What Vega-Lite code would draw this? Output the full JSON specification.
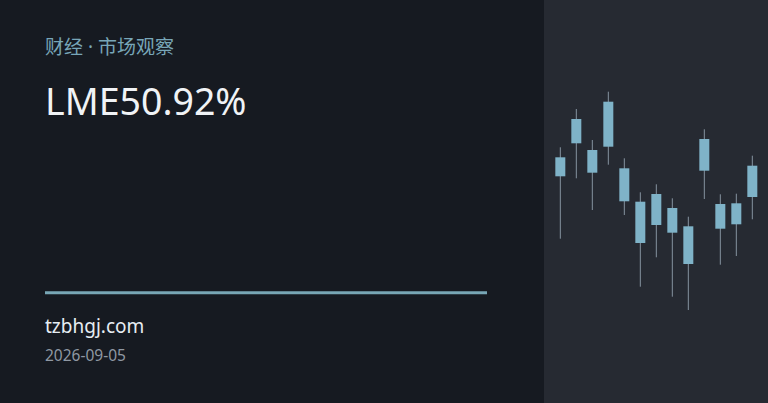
{
  "$schema": "https://vega.github.io/schema/vega-lite/v6.json",
  "width": 768,
  "height": 403,
  "autosize": {"type": "fit", "contains": "padding"},
  "padding": 0,
  "background": "#161a21",
  "config": {"view": {"stroke": null}, "font": "Noto Sans"},
  "data": {
    "values": [
      {"i": 1, "open": 245.7, "close": 226.7, "high": 255.7, "low": 164.3},
      {"i": 2, "open": 284.0, "close": 259.7, "high": 294.0, "low": 224.7},
      {"i": 3, "open": 253.0, "close": 230.3, "high": 263.0, "low": 193.0},
      {"i": 4, "open": 301.3, "close": 256.3, "high": 311.3, "low": 238.3},
      {"i": 5, "open": 234.7, "close": 201.7, "high": 244.7, "low": 188.0},
      {"i": 6, "open": 201.3, "close": 160.0, "high": 210.7, "low": 116.3},
      {"i": 7, "open": 209.0, "close": 178.0, "high": 218.7, "low": 145.7},
      {"i": 8, "open": 195.0, "close": 170.3, "high": 204.7, "low": 106.3},
      {"i": 9, "open": 176.7, "close": 139.0, "high": 186.3, "low": 93.0},
      {"i": 10, "open": 264.0, "close": 232.3, "high": 273.7, "low": 204.0},
      {"i": 11, "open": 199.0, "close": 174.3, "high": 208.7, "low": 138.3},
      {"i": 12, "open": 199.7, "close": 178.7, "high": 209.3, "low": 147.0},
      {"i": 13, "open": 237.3, "close": 206.0, "high": 247.3, "low": 183.7}
    ]
  },
  "layer": [
    {
      "data": {"values": [{}]},
      "mark": {"type": "rect", "color": "#262a32"},
      "encoding": {
        "x": {"value": 544},
        "x2": {"value": 768},
        "y": {"value": 0},
        "y2": {"value": 403}
      }
    },
    {
      "mark": {"type": "rule", "color": "#8593a0", "strokeWidth": 1},
      "encoding": {
        "x": {"field": "i", "type": "quantitative", "scale": {"domain": [-34.02, 13.98], "nice": false, "zero": false, "padding": 0}, "axis": null},
        "y": {"field": "low", "type": "quantitative", "scale": {"domain": [0, 403], "nice": false, "zero": false, "padding": 0}, "axis": null},
        "y2": {"field": "high"}
      }
    },
    {
      "mark": {"type": "bar", "color": "#7fb3c8", "size": 10},
      "encoding": {
        "x": {"field": "i", "type": "quantitative"},
        "y": {"field": "open", "type": "quantitative"},
        "y2": {"field": "close"}
      }
    },
    {
      "data": {"values": [{}]},
      "mark": {"type": "rule", "color": "#78a7b6", "strokeWidth": 3},
      "encoding": {
        "x": {"value": 45},
        "x2": {"value": 487},
        "y": {"value": 292.7}
      }
    },
    {
      "data": {"values": [{"t": "财经 · 市场观察"}]},
      "mark": {"type": "text", "align": "left", "baseline": "alphabetic", "fontSize": 19, "font": "Noto Sans, 'Noto Sans CJK SC'", "color": "#78a6b8"},
      "encoding": {"text": {"field": "t"}, "x": {"value": 45}, "y": {"value": 54}}
    },
    {
      "data": {"values": [{"t": "LME50.92%"}]},
      "mark": {"type": "text", "align": "left", "baseline": "alphabetic", "fontSize": 37.5, "font": "Noto Sans", "color": "#f0f3f6"},
      "encoding": {"text": {"field": "t"}, "x": {"value": 45}, "y": {"value": 115}}
    },
    {
      "data": {"values": [{"t": "tzbhgj.com"}]},
      "mark": {"type": "text", "align": "left", "baseline": "alphabetic", "fontSize": 19, "font": "Noto Sans", "color": "#e6edf3"},
      "encoding": {"text": {"field": "t"}, "x": {"value": 45}, "y": {"value": 333}}
    },
    {
      "data": {"values": [{"t": "2026-09-05"}]},
      "mark": {"type": "text", "align": "left", "baseline": "alphabetic", "fontSize": 15.5, "font": "Noto Sans", "color": "#8f98a3"},
      "encoding": {"text": {"field": "t"}, "x": {"value": 45}, "y": {"value": 360.5}}
    }
  ]
}
